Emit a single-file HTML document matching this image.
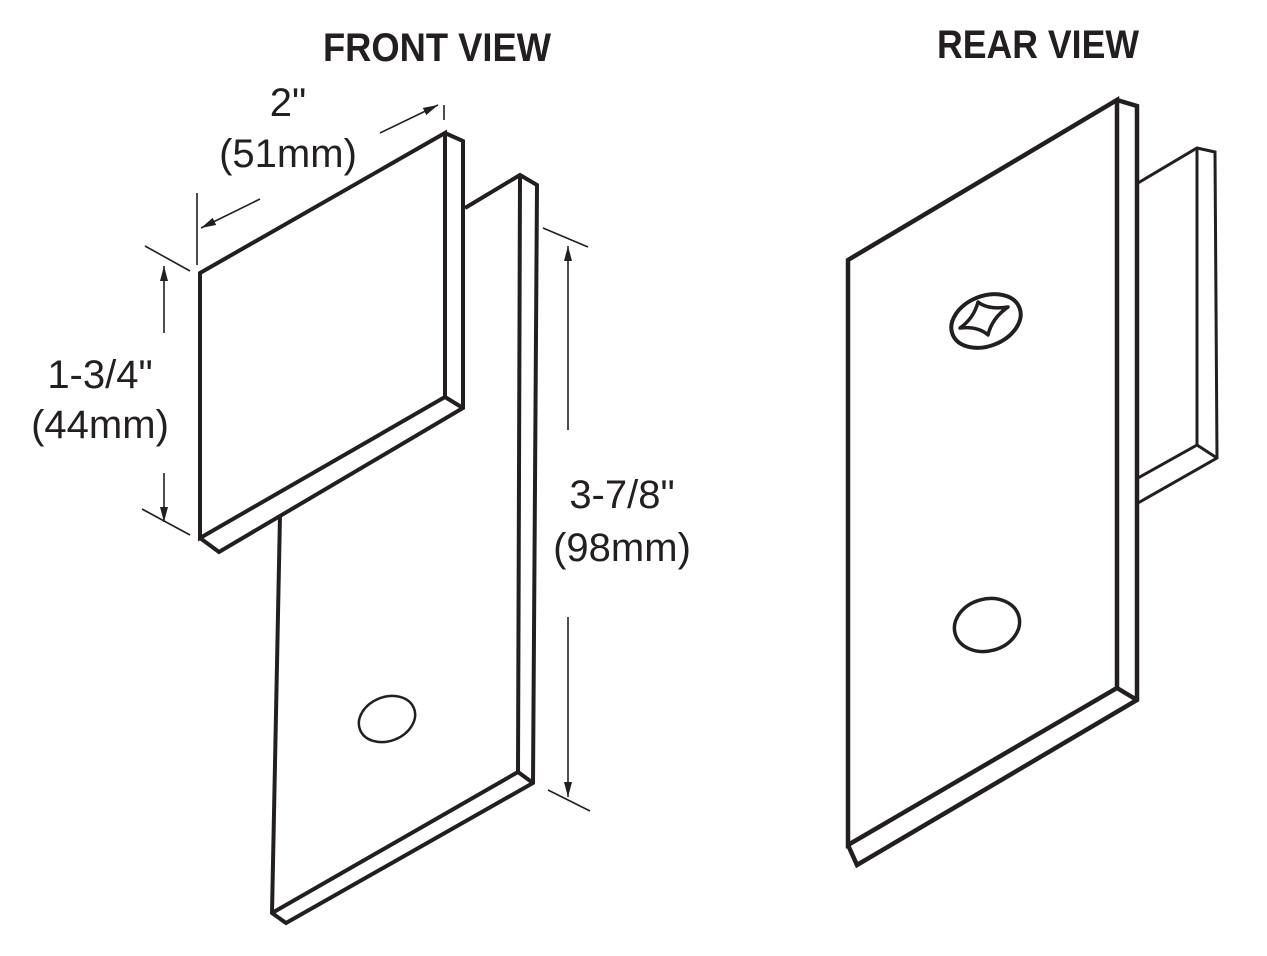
<!DOCTYPE html>
<html><head><meta charset="utf-8"><style>
html,body{margin:0;padding:0;background:#fff;}
svg{display:block}
text{font-family:"Liberation Sans",sans-serif;fill:#231f20}
.t{font-family:"Liberation Sans Narrow","Liberation Sans",sans-serif;font-weight:bold;font-size:40px}
.d{font-size:40px}
</style></head><body>
<svg width="1267" height="956" viewBox="0 0 1267 956" xmlns="http://www.w3.org/2000/svg">
<defs><marker id="a" viewBox="0 0 10 10" refX="10" refY="5" markerWidth="15" markerHeight="8" orient="auto" markerUnits="userSpaceOnUse" preserveAspectRatio="none"><path d="M0,0 L10,5 L0,10 z" fill="#231f20"/></marker></defs>
<text class="t" x="437" y="61" text-anchor="middle" textLength="228" lengthAdjust="spacingAndGlyphs">FRONT VIEW</text>
<text class="t" x="1038" y="58" text-anchor="middle" textLength="202" lengthAdjust="spacingAndGlyphs">REAR VIEW</text>

<g fill="none" stroke="#231f20" stroke-width="4" stroke-linejoin="miter">
<path d="M465,208 L520,175 L537,185 L533,783 L286,923 L272,913 L280,515"/>
<path d="M520,175 L518,772 L272,913"/>
<path d="M518,772 L533,783"/>
<path d="M200,273 L445,133 L445,397 L200,538 Z" fill="#fff"/>
<path d="M445,133 L463,141 L463,408 L219,552 L200,538"/>
<path d="M445,397 L463,408"/>
</g>
<ellipse cx="387" cy="719" rx="29" ry="22" transform="rotate(-22 387 719)" fill="none" stroke="#231f20" stroke-width="2.5"/>

<g stroke="#231f20" stroke-width="1.6" fill="none">
<line x1="197" y1="193" x2="197" y2="265"/>
<line x1="444" y1="105" x2="444" y2="120"/>
<line x1="260" y1="199" x2="201" y2="228" marker-end="url(#a)"/>
<line x1="380" y1="133" x2="438" y2="105" marker-end="url(#a)"/>
<line x1="145" y1="246" x2="190" y2="271"/>
<line x1="142" y1="509" x2="190" y2="535"/>
<line x1="164" y1="333" x2="164" y2="266" marker-end="url(#a)"/>
<line x1="164" y1="473" x2="164" y2="522" marker-end="url(#a)"/>
<line x1="543" y1="228" x2="588" y2="247"/>
<line x1="548" y1="790" x2="590" y2="811"/>
<line x1="568" y1="430" x2="568" y2="246" marker-end="url(#a)"/>
<line x1="568" y1="617" x2="568" y2="797" marker-end="url(#a)"/>
</g>
<text class="d" x="288" y="116" text-anchor="middle">2"</text>
<text class="d" x="288" y="167" text-anchor="middle">(51mm)</text>
<text class="d" x="100" y="388" text-anchor="middle">1-3/4"</text>
<text class="d" x="100" y="438" text-anchor="middle">(44mm)</text>
<text class="d" x="622" y="508" text-anchor="middle">3-7/8"</text>
<text class="d" x="622" y="561" text-anchor="middle">(98mm)</text>

<g fill="none" stroke="#231f20" stroke-linejoin="miter">
<path d="M1138,183 L1197,148 L1215,152 L1217,458 L1138,503" stroke-width="3"/>
<path d="M1197,148 L1197,445 L1138,478" stroke-width="3"/>
<path d="M1197,445 L1217,458" stroke-width="3"/>
<path d="M848,260 L1117,100 L1117,688 L848,845 Z" stroke-width="4.5"/>
<path d="M1117,100 L1137,106 L1137,700 L857,865 L848,845" stroke-width="4.5"/>
<path d="M1117,688 L1137,700" stroke-width="4.5"/>
</g>
<ellipse cx="986" cy="321" rx="36" ry="25" transform="rotate(-22 986 321)" fill="none" stroke="#231f20" stroke-width="4"/>
<path d="M978,302 Q988,310 1008,307 Q992,318 988,335 Q978,326 960,328 Q974,318 978,302 Z" fill="none" stroke="#231f20" stroke-width="3.5" stroke-linejoin="round"/>
<ellipse cx="987" cy="625" rx="33" ry="26" transform="rotate(-15 987 625)" fill="none" stroke="#231f20" stroke-width="3.5"/>
</svg>
</body></html>
